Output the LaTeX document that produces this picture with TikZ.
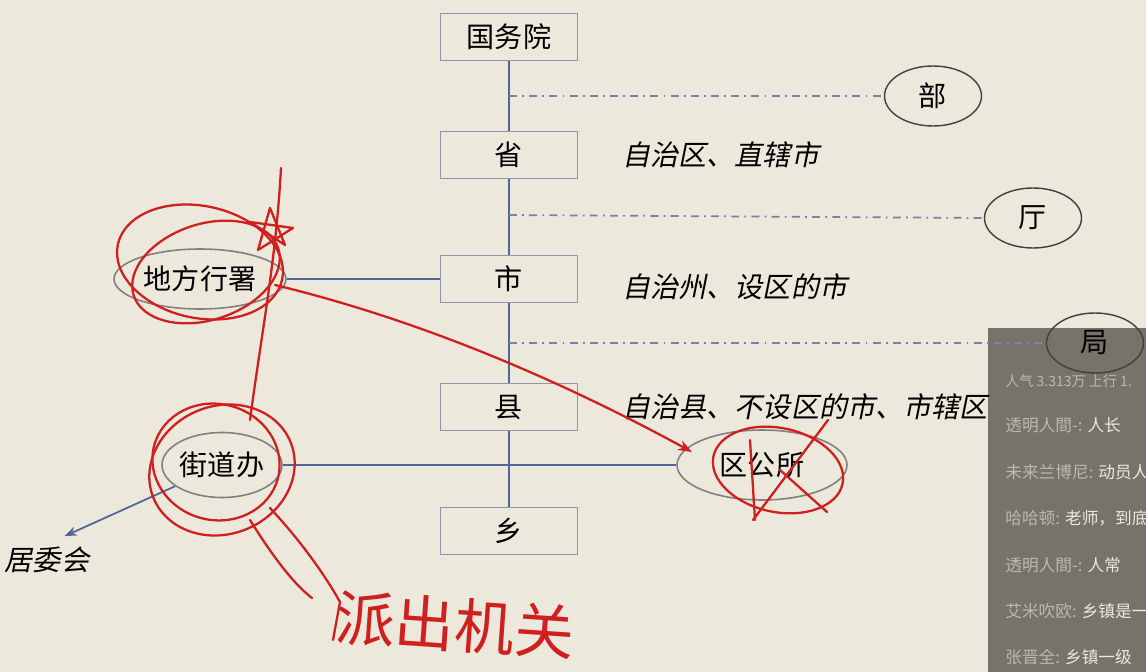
\documentclass[tikz,border=0pt]{standalone}
\usepackage{fontspec}
\setmainfont{Noto Sans CJK SC}
\newfontfamily\slantcjk[FakeSlant=0.2]{Noto Sans CJK SC}
\usetikzlibrary{arrows.meta,shapes.geometric,positioning}
\definecolor{paper}{HTML}{EDE8DC}
\definecolor{axisblue}{HTML}{4E6796}
\definecolor{boxline}{HTML}{8A96AE}
\definecolor{redpen}{HTML}{CF1F1F}
\definecolor{chatbg}{HTML}{77736B}
\definecolor{chatname}{HTML}{BDB8AE}
\definecolor{chatmsg}{HTML}{ECE8E0}
\tikzset{
  level/.style={draw=boxline, line width=1pt, minimum width=2.74cm, minimum height=0.94cm, inner sep=0pt},
  dept/.style={ellipse, draw=black!75, line width=0.8pt, minimum width=1.94cm, minimum height=1.2cm, inner sep=0pt},
  office/.style={ellipse, draw=gray, line width=0.9pt, inner sep=0pt},
  note/.style={font=\fontsize{16}{18}\selectfont\slantcjk, inner sep=0pt},
  spine/.style={draw=axisblue, line width=1.3pt},
  branch/.style={draw=axisblue!80, line width=1pt, dash pattern=on 4.5pt off 3pt on 1pt off 3pt},
  ink/.style={draw=redpen, line width=1.3pt, line cap=round, line join=round},
  chat/.style={font=\fontsize{9.5}{11}\selectfont, anchor=west, inner sep=0pt}
}
\begin{document}
\begin{tikzpicture}[x=0.02cm, y=-0.02cm, font=\fontsize{16}{18}\selectfont]
  \fill[paper] (0,0) rectangle (1146,672);
  \useasboundingbox (0,0) rectangle (1146,672);
  %chat overlay
  \fill[chatbg] (988,328) rectangle (1146,672);
  \node[chat, text=chatname, font=\fontsize{8}{9}\selectfont] at (1005,381) (renqi) {人气\ 3.313万 上行\ 1.};
  \node[chat, text=chatname] at (1005,425) (c1) {透明人間-: \textcolor{chatmsg}{人长}};
  \node[chat, text=chatname] at (1005,472) (c2) {未来兰博尼: \textcolor{chatmsg}{动员人}};
  \node[chat, text=chatname] at (1005,518) (c3) {哈哈顿: \textcolor{chatmsg}{老师，到底}};
  \node[chat, text=chatname] at (1005,565) (c4) {透明人間-: \textcolor{chatmsg}{人常}};
  \node[chat, text=chatname] at (1005,611) (c5) {艾米吹欧: \textcolor{chatmsg}{乡镇是一}};
  \node[chat, text=chatname] at (1005,657) (c6) {张晋全: \textcolor{chatmsg}{乡镇一级}};
  %nodes
  \node[level] at (509,37) (gwy) {国务院};
  \node[level] at (509,155) (sheng) {省};
  \node[level] at (509,279) (shi) {市};
  \node[level] at (509,407) (xian) {县};
  \node[level] at (509,531) (xiang) {乡};
  \node[dept] at (933,96) (bu) {部};
  \node[dept] at (1033,218) (ting) {厅};
  \node[dept] at (1095,343) (ju) {局};
  \node[office, minimum width=3.44cm, minimum height=1.2cm] at (200,279) (xingshu) {地方行署};
  \node[office, minimum width=2.4cm, minimum height=1.3cm] at (222,465) (jiedao) {街道办};
  \node[office, minimum width=3.4cm, minimum height=1.4cm] at (762,465) (qugongsuo) {区公所};
  \node[note, anchor=west] at (622,155) (zizhiqu) {自治区、直辖市};
  \node[note, anchor=west] at (622,287) (zizhizhou) {自治州、设区的市};
  \node[note, anchor=west] at (622,407) (zizhixian) {自治县、不设区的市、市辖区};
  \node[note] at (47,560) (juweihui) {居委会};
  \coordinate (bbu) at (509,96);
  \coordinate (bting) at (509,215);
  \coordinate (bju) at (509,343);
  %lines
  \draw[spine] (gwy) -- (sheng) -- (shi) -- (xian) -- (xiang);
  \draw[branch] (bbu) -- (bu.west);
  \draw[branch] (bting) -- (ting.west);
  \draw[branch] (bju) -- (ju.west);
  \path[spine]
    (xingshu) edge (shi)
    (jiedao) edge (qugongsuo)
    (jiedao) edge[-{Stealth[length=7pt]}, line width=1pt] ([xshift=10pt,yshift=6pt]juweihui.north);
  %red ink
  \draw[ink, rotate around={-12:(200,262)}] (200,262) ellipse (84 and 56);
  \draw[ink, rotate around={18:(206,272)}] (206,272) ellipse (76 and 48);
  \draw[ink] (258,250) -- (270,208) -- (285,245) -- (250,222) -- (293,228) -- cycle;
  \draw[ink] (281,168) .. controls (276,260) and (262,330) .. (250,420);
  \draw[ink, -{Stealth[length=8pt]}] (275,285) .. controls (420,320) and (560,380) .. (692,452);
  \draw[ink, rotate around={22:(222,470)}] (222,470) ellipse (74 and 64);
  \draw[ink, rotate around={-15:(216,462)}] (216,462) ellipse (64 and 58);
  \draw[ink] (250,520) .. controls (275,560) and (295,585) .. (312,598);
  \draw[ink] (270,508) .. controls (300,540) and (325,575) .. (340,602) -- (333,640);
  \draw[ink, rotate around={-12:(778,470)}] (778,470) ellipse (66 and 42);
  \draw[ink] (753,520) -- (828,420);
  \draw[ink] (755,520) -- (750,440);
  \draw[ink] (780,470) -- (827,512);
  \node[text=redpen, font=\fontsize{34}{36}\selectfont, rotate=-4] at (455,625) (paichu) {派出机关};
\end{tikzpicture}
\end{document}
